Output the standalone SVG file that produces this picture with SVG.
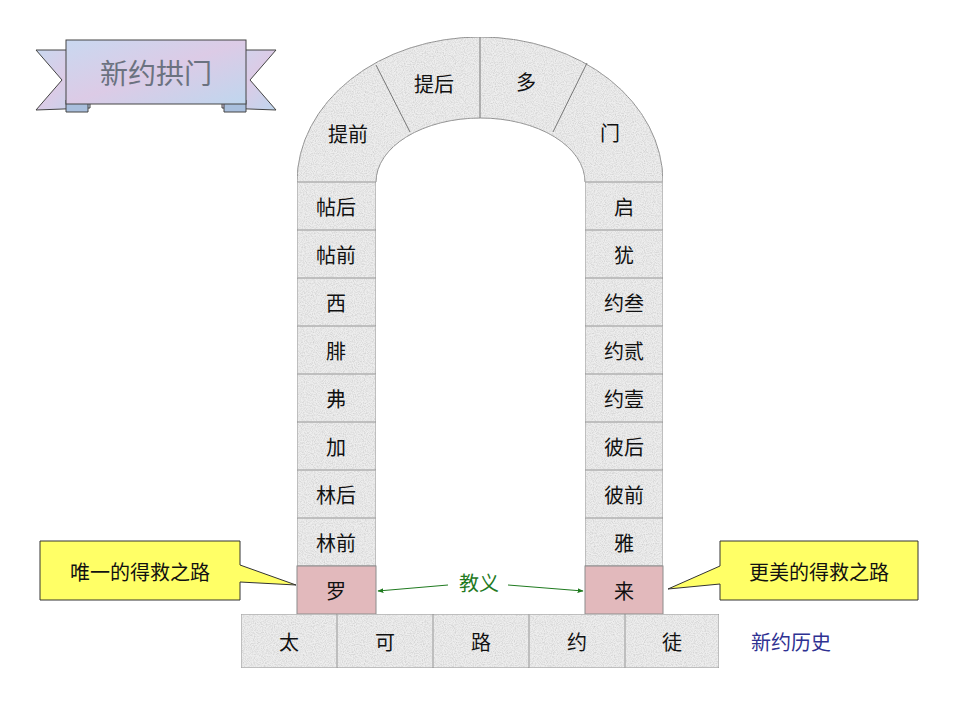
<svg xmlns="http://www.w3.org/2000/svg" width="960" height="720" viewBox="0 0 960 720">
<defs>
<filter id="stone" x="0" y="0" width="100%" height="100%">
<feTurbulence type="fractalNoise" baseFrequency="0.9" numOctaves="2" seed="3" result="n"/>
<feColorMatrix in="n" type="matrix" values="0 0 0 0 0.55  0 0 0 0 0.55  0 0 0 0 0.55  0 0 0 -1.4 0.9" result="s"/>
<feComposite in="s" in2="SourceGraphic" operator="in" result="t"/>
<feMerge><feMergeNode in="SourceGraphic"/><feMergeNode in="t"/></feMerge>
</filter>
<linearGradient id="rib" x1="0" y1="0" x2="1" y2="1">
<stop offset="0" stop-color="#c9d8f0"/><stop offset="0.5" stop-color="#dccbe6"/><stop offset="1" stop-color="#bfd6ee"/>
</linearGradient>
<marker id="ga" viewBox="0 0 10 10" refX="9" refY="5" markerWidth="6" markerHeight="6" orient="auto-start-reverse">
<path d="M0,1 L10,5 L0,9 z" fill="#1f7a1f"/>
</marker>
</defs>
<style>
.s{fill:#eeeeee;stroke:#8c8c8c;stroke-width:1;filter:url(#stone)}
.r{fill:#e2b9bc;stroke:#8c8c8c;stroke-width:1}
.t{font-family:"Noto Sans CJK SC",sans-serif;font-size:20px;fill:#111;text-anchor:middle;dominant-baseline:central}
.y{fill:#ffff66;stroke:#333;stroke-width:1}
</style>

<g id="title">
<path d="M36,50 L90,50 L90,108 L36,110 L62,80 Z" fill="url(#rib)" stroke="#444"/>
<path d="M276,50 L222,50 L222,108 L276,110 L250,80 Z" fill="url(#rib)" stroke="#444"/>
<path d="M66,100 L66,112 L88,112 L88,100 Z M246,100 L246,112 L224,112 L224,100 Z" fill="#a9bfdd" stroke="#444"/>
<rect x="66" y="40" width="180" height="64" fill="url(#rib)" stroke="#444"/>
<text x="156" y="72" class="t" style="font-size:28px;fill:#6b7280">新约拱门</text>
</g>

<g id="arch">
<path class="s" d="M297,182 A183,145 0 0 1 663,182 L585,182 A104.5,64 0 0 0 376,182 Z"/>
<path d="M376,65 L410,132 M480,37 L480,118 M587,63 L553,132" stroke="#777" fill="none"/>
<text x="348" y="133" class="t">提前</text>
<text x="434" y="83" class="t">提后</text>
<text x="526" y="81" class="t">多</text>
<text x="610" y="132" class="t">门</text>
</g>

<g id="left">
<rect class="s" x="297" y="182" width="79" height="48"/><text x="336" y="206" class="t">帖后</text>
<rect class="s" x="297" y="230" width="79" height="48"/><text x="336" y="254" class="t">帖前</text>
<rect class="s" x="297" y="278" width="79" height="48"/><text x="336" y="302" class="t">西</text>
<rect class="s" x="297" y="326" width="79" height="48"/><text x="336" y="350" class="t">腓</text>
<rect class="s" x="297" y="374" width="79" height="48"/><text x="336" y="398" class="t">弗</text>
<rect class="s" x="297" y="422" width="79" height="48"/><text x="336" y="446" class="t">加</text>
<rect class="s" x="297" y="470" width="79" height="48"/><text x="336" y="494" class="t">林后</text>
<rect class="s" x="297" y="518" width="79" height="48"/><text x="336" y="542" class="t">林前</text>
<g id="luo"><rect class="r" x="297" y="566" width="79" height="48"/><text x="336" y="590" class="t">罗</text></g>
</g>

<g id="right">
<rect class="s" x="585" y="182" width="78" height="48"/><text x="624" y="206" class="t">启</text>
<rect class="s" x="585" y="230" width="78" height="48"/><text x="624" y="254" class="t">犹</text>
<rect class="s" x="585" y="278" width="78" height="48"/><text x="624" y="302" class="t">约叁</text>
<rect class="s" x="585" y="326" width="78" height="48"/><text x="624" y="350" class="t">约贰</text>
<rect class="s" x="585" y="374" width="78" height="48"/><text x="624" y="398" class="t">约壹</text>
<rect class="s" x="585" y="422" width="78" height="48"/><text x="624" y="446" class="t">彼后</text>
<rect class="s" x="585" y="470" width="78" height="48"/><text x="624" y="494" class="t">彼前</text>
<rect class="s" x="585" y="518" width="78" height="48"/><text x="624" y="542" class="t">雅</text>
<g id="lai"><rect class="r" x="585" y="566" width="78" height="48"/><text x="624" y="590" class="t">来</text></g>
</g>

<g id="base">
<rect class="s" x="241" y="614" width="96" height="54"/><text x="289" y="641" class="t">太</text>
<rect class="s" x="337" y="614" width="96" height="54"/><text x="385" y="641" class="t">可</text>
<rect class="s" x="433" y="614" width="96" height="54"/><text x="481" y="641" class="t">路</text>
<rect class="s" x="529" y="614" width="96" height="54"/><text x="577" y="641" class="t">约</text>
<rect class="s" x="625" y="614" width="94" height="54"/><text x="672" y="641" class="t">徒</text>
</g>

<g id="callout-left">
<path class="y" d="M40,541 L240,541 L240,565 L296,585 L240,582 L240,600 L40,600 Z"/>
<text x="140" y="571" class="t">唯一的得救之路</text>
</g>
<g id="callout-right">
<path class="y" d="M720,541 L918,541 L918,600 L720,600 L720,584 L668,589 L720,566 Z"/>
<text x="819" y="571" class="t">更美的得救之路</text>
</g>

<g id="connectors">
<line x1="448" y1="585" x2="378" y2="591" stroke="#1f7a1f" stroke-width="1" marker-end="url(#ga)"/>
<line x1="508" y1="585" x2="583" y2="591" stroke="#1f7a1f" stroke-width="1" marker-end="url(#ga)"/>
</g>
<text x="479" y="582" class="t" style="fill:#1f7a1f">教义</text>
<text x="791" y="641" class="t" style="fill:#2e3192">新约历史</text>
</svg>
